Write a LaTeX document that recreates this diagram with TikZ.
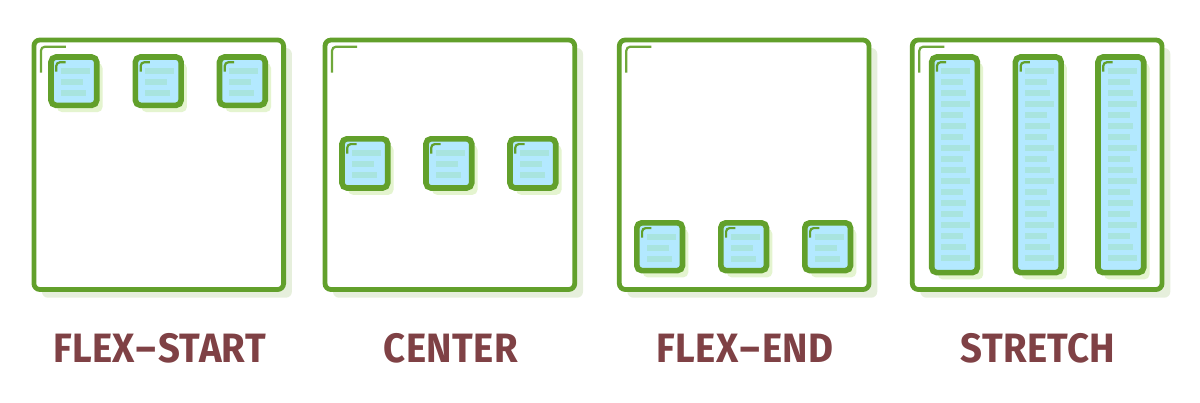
\documentclass[tikz,border=0pt]{standalone}
\usepackage{fontspec}
\setmainfont{Fira Sans}[BoldFont={Fira Sans Bold},LetterSpace=1]
\usepackage{graphicx}
\definecolor{gr}{HTML}{62A02B}
\definecolor{grm}{HTML}{6FA83A}
\definecolor{sh}{HTML}{E6EFDC}
\definecolor{shi}{HTML}{E4F4CF}
\definecolor{blu}{HTML}{B3E9FF}
\definecolor{bar}{HTML}{A8E4DF}
\definecolor{lab}{HTML}{7F4145}
\tikzset{
 boxshade/.style={fill=sh,rounded corners=6pt},
 boxmain/.style={draw=gr,fill=white,line width=4.8pt,rounded corners=6pt},
 itemshade/.style={fill=shi,rounded corners=5pt},
 itemmain/.style={draw=gr,fill=blu,line width=5.6pt,rounded corners=5pt},
 outermark/.style={draw=grm,line width=2.2pt,rounded corners=4pt},
 innermark/.style={draw=gr,line width=2.2pt,rounded corners=3.5pt},
 barfill/.style={fill=bar},
 lbl/.style={text=lab,font=\bfseries\fontsize{41}{41}\selectfont,anchor=center,inner sep=0pt}
}
\newcommand{\hyph}{\scalebox{1.5}[1]{-}}
\newcommand{\narrow}[1]{\scalebox{.935}[1]{#1}}
\newcommand{\boxat}[1]{%
 \fill[boxshade] (#1+8,48) rectangle (#1+258,297.7);
 \draw[boxmain] (#1,40) rectangle (#1+249.7,289.5);
 \draw[outermark] (#1+7,72.5) -- (#1+7,46.7) -- (#1+32,46.7);
}
\newcommand{\itemat}[4]{% x, ytop, ybottom, bar widths
 \fill[itemshade] (#1+6,#2+6) rectangle (#1+51.5,#3+6.8);
 \draw[itemmain] (#1,#2) rectangle (#1+45.7,#3);
 \draw[innermark] (#1+5.3,#2+14.7) -- (#1+5.3,#2+5.3) -- (#1+14.5,#2+5.3);
 \foreach \ww [count=\n from 0, evaluate=\n as \yy using {#2+11+11*\n}] in {#4}
   \fill[barfill] (#1+9.7,\yy) rectangle (#1+9.7+\ww,\yy+6);
}
\begin{document}
\begin{tikzpicture}[x=1pt,y=-1pt]
\useasboundingbox (0,0) rectangle (1200,402);
\boxat{33.9}
\itemat{51}{57}{105.3}{29,22,25}\itemat{135.4}{57}{105.3}{29,22,25}\itemat{219.5}{57}{105.3}{29,22,25}
\boxat{325}
\itemat{342}{138.8}{188}{29,22,25}\itemat{426}{138.8}{188}{29,22,25}\itemat{510}{138.8}{188}{29,22,25}
\boxat{619.3}
\itemat{636.8}{222.8}{270.6}{29,22,25}\itemat{720.8}{222.8}{270.6}{29,22,25}\itemat{804.8}{222.8}{270.6}{29,22,25}
\boxat{912.3}
\itemat{931.7}{57}{272.6}{29,22,25,29,22,25,22,29,22,25,29,22,25,22,29,22,25,29}
\itemat{1015.4}{57}{272.6}{29,22,25,29,22,25,22,29,22,25,29,22,25,22,29,22,25,29}
\itemat{1098}{57}{272.6}{29,22,25,29,22,25,22,29,22,25,29,22,25,22,29,22,25,29}
\node[lbl] (a) at (159.5,348) {\narrow{FLEX\hyph START}};
\node[lbl] (b) at (451,348) {\narrow{CENTER}};
\node[lbl] (c) at (745,348) {\narrow{FLEX\hyph END}};
\node[lbl] (d) at (1038,348) {\narrow{STRETCH}};
\end{tikzpicture}
\end{document}
